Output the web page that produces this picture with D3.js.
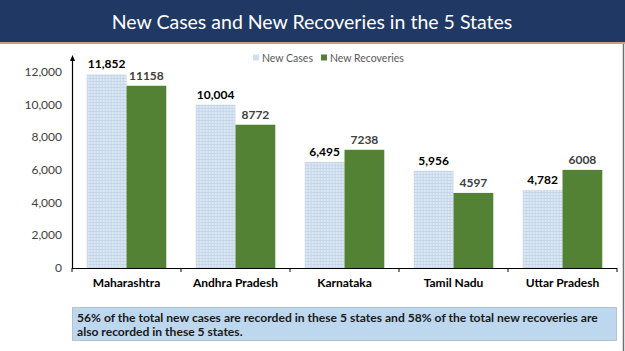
<!DOCTYPE html>
<html>
<head>
<meta charset="utf-8">
<script src="https://cdn.jsdelivr.net/npm/d3@7"></script>
<style>
  html, body { margin: 0; padding: 0; background: #fff; }
  svg { display: block; }
</style>
</head>
<body>
<div id="chart"></div>
<script>
// data
var states = ["Maharashtra", "Andhra Pradesh", "Karnataka", "Tamil Nadu", "Uttar Pradesh"];
var newCases = [11852, 10004, 6495, 5956, 4782];
var newRecoveries = [11158, 8772, 7238, 4597, 6008];
var seriesNames = ["New Cases", "New Recoveries"];
var yTicks = [0, 2000, 4000, 6000, 8000, 10000, 12000];
var title = "New Cases and New Recoveries in the 5 States";
var note = ["56% of the total new cases are recorded in these 5 states and 58% of the total new recoveries are",
            "also recorded in these 5 states."];

var W = 625, H = 351;
var font = "Lato, 'Open Sans', sans-serif";

var svg = d3.select("#chart").append("svg")
    .attr("width", W).attr("height", H);

// pattern for the light blue bars
var defs = svg.append("defs");
var pat = defs.append("pattern")
    .attr("id", "grid").attr("width", 3).attr("height", 3)
    .attr("patternUnits", "userSpaceOnUse");
pat.append("rect").attr("width", 3).attr("height", 3).attr("fill", "#dce8f4");
pat.append("path").attr("d", "M0 0.5 H3 M0.5 0 V3")
    .attr("stroke", "#c6d7ea").attr("stroke-width", 1);

// header band
svg.append("rect").attr("x", 0).attr("y", 0).attr("width", W).attr("height", 42)
    .attr("fill", "#1f3864");
svg.append("rect").attr("x", 0).attr("y", 42).attr("width", W).attr("height", 2)
    .attr("fill", "#c9a27a");
svg.append("text").attr("x", 312).attr("y", 29)
    .attr("text-anchor", "middle").attr("fill", "#fff")
    .attr("font-family", font).attr("font-size", 19.5)
    .text(title);
svg.append("line").attr("x1", 623.5).attr("x2", 623.5).attr("y1", 44).attr("y2", H)
    .attr("stroke", "#6f6f6f").attr("stroke-width", 1.5);

// scales
var x0 = d3.scaleBand().domain(states).range([72, 617])
    .paddingInner(0.27).paddingOuter(0.135);
var x1 = d3.scaleBand().domain(seriesNames).range([0, x0.bandwidth()]);
var y = d3.scaleLinear().domain([0, 12000]).range([268, 72]);

var rows = states.map(function(s, i) {
    return { state: s, vals: [
        { key: seriesNames[0], v: newCases[i], label: d3.format(",")(newCases[i]) },
        { key: seriesNames[1], v: newRecoveries[i], label: String(newRecoveries[i]) }
    ]};
});

// y tick labels
svg.append("g").selectAll("text").data(yTicks).enter().append("text")
    .attr("x", 62).attr("y", function(d) { return y(d) + 4; })
    .attr("text-anchor", "end").attr("fill", "#404040")
    .attr("font-family", font).attr("font-size", 12)
    .text(d3.format(","));

// bars
var groups = svg.append("g").selectAll("g").data(rows).enter().append("g")
    .attr("transform", function(d) { return "translate(" + x0(d.state) + ",0)"; });

groups.selectAll("rect").data(function(d) { return d.vals; }).enter().append("rect")
    .attr("x", function(d) { return x1(d.key); })
    .attr("y", function(d) { return y(d.v); })
    .attr("width", x1.bandwidth())
    .attr("height", function(d) { return y(0) - y(d.v); })
    .attr("fill", function(d, i) { return i === 0 ? "url(#grid)" : "#548235"; });

groups.selectAll("text").data(function(d) { return d.vals; }).enter().append("text")
    .attr("x", function(d) { return x1(d.key) + x1.bandwidth() / 2; })
    .attr("y", function(d) { return y(d.v) - 6; })
    .attr("text-anchor", "middle")
    .attr("fill", function(d, i) { return i === 0 ? "#000" : "#404040"; })
    .attr("font-family", font).attr("font-size", 12).attr("font-weight", "bold")
    .text(function(d) { return d.label; });

// axes
svg.append("line").attr("x1", 72.5).attr("x2", 72.5).attr("y1", 58).attr("y2", 268.5)
    .attr("stroke", "#000").attr("stroke-width", 1.2);
svg.append("path").attr("d", "M72.5 55 L70 61 L75 61 Z").attr("fill", "#000");
svg.append("line").attr("x1", 72).attr("x2", 617).attr("y1", 268.5).attr("y2", 268.5)
    .attr("stroke", "#000").attr("stroke-width", 1.2);
var bounds = states.map(function(s) { return x0(s) - x0.step() * x0.paddingInner() / 2; })
    .concat([617]);
svg.append("g").selectAll("line").data(bounds).enter().append("line")
    .attr("x1", function(d) { return d; }).attr("x2", function(d) { return d; })
    .attr("y1", 268).attr("y2", 272)
    .attr("stroke", "#000");

svg.append("g").selectAll("text").data(states).enter().append("text")
    .attr("x", function(d) { return x0(d) + x0.bandwidth() / 2; })
    .attr("y", 287)
    .attr("text-anchor", "middle").attr("fill", "#000")
    .attr("font-family", font).attr("font-size", 12).attr("font-weight", "bold")
    .text(function(d) { return d; });

// legend
var legend = svg.append("g").selectAll("g").data(seriesNames).enter().append("g")
    .attr("transform", function(d, i) { return "translate(" + (i === 0 ? 253 : 321) + ",58)"; });
legend.append("rect").attr("x", 0).attr("y", -3.5).attr("width", 6).attr("height", 6)
    .attr("fill", function(d, i) { return i === 0 ? "#d0dff0" : "#548235"; });
legend.append("text").attr("x", 9).attr("y", 3.5)
    .attr("fill", "#595959").attr("font-family", font).attr("font-size", 10.5)
    .text(function(d) { return d; });

// note box
svg.append("rect").attr("x", 72.5).attr("y", 307.5).attr("width", 544).attr("height", 33)
    .attr("fill", "#bdd7ee").attr("stroke", "#8c9aa8").attr("stroke-dasharray", "1,1");
svg.append("g").selectAll("text").data(note).enter().append("text")
    .attr("x", 77).attr("y", function(d, i) { return 321.5 + i * 14; })
    .attr("fill", "#1a1a1a").attr("font-family", font).attr("font-size", 12.1)
    .attr("font-weight", "bold")
    .text(function(d) { return d; });
</script>
</body>
</html>
